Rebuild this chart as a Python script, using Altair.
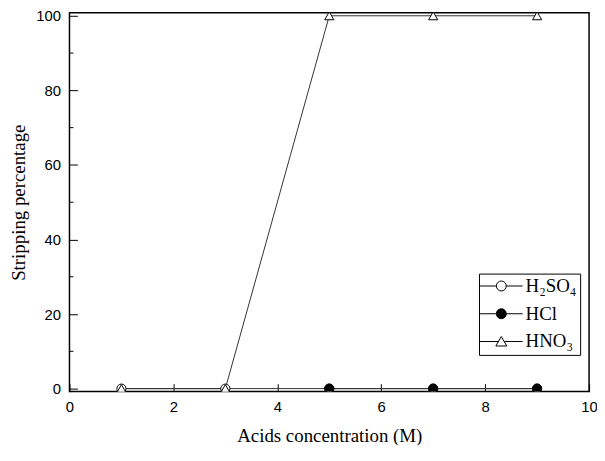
import altair as alt
import pandas as pd

# ---- data ----
series_names = ["H\u2082SO\u2084", "HCl", "HNO\u2083"]
x_h2so4 = [1, 3, 5, 7, 9]
y_h2so4 = [0, 0, 0, 0, 0]
x_hcl = [5, 7, 9]
y_hcl = [0, 0, 0]
x_hno3 = [1, 3, 5, 7, 9]
y_hno3 = [0, 0, 100, 100, 100]

x_ticks = [0, 2, 4, 6, 8, 10]
y_ticks = [0, 20, 40, 60, 80, 100]
y_minor = [10, 30, 50, 70, 90]
x_minor = [1, 3, 5, 7, 9]

rows = []
for name, xs, ys in zip(series_names, [x_h2so4, x_hcl, x_hno3], [y_h2so4, y_hcl, y_hno3]):
    for xv, yv in zip(xs, ys):
        rows.append({"series": name, "x": xv, "y": yv})
df = pd.DataFrame(rows)

W, H = 524, 382

xscale = alt.Scale(domain=[0, 10], nice=False, zero=False)
yscale = alt.Scale(domain=[-0.8, 100.8], nice=False, zero=False)

serif = "Liberation Serif"
sans = "Liberation Sans"

xaxis = alt.Axis(values=x_ticks, title="Acids concentration (M)", tickSize={"expr": "-8"},
                 labelPadding=16, labelFlush=False, titlePadding=12, format="d")
yaxis = alt.Axis(values=y_ticks, title="Stripping percentage", tickSize={"expr": "-8"},
                 labelPadding=17, labelFlush=False, titlePadding=7, format="d")

base = alt.Chart(df)

lines = base.mark_line(color="#333333", strokeWidth=1, clip=True).encode(
    x=alt.X("x:Q", scale=xscale, axis=xaxis),
    y=alt.Y("y:Q", scale=yscale, axis=yaxis),
    detail="series:N",
)

points = base.mark_point(filled=False, stroke="black", strokeWidth=1, size=85, opacity=1, clip=True).encode(
    x="x:Q",
    y="y:Q",
    shape=alt.Shape("series:N", scale=alt.Scale(domain=series_names, range=["circle", "circle", "triangle-up"]), legend=None),
    fill=alt.Fill("series:N", scale=alt.Scale(domain=series_names, range=["white", "black", "white"]), legend=None),
)

ydf = pd.DataFrame({"ym": y_minor})
yminor = alt.Chart(ydf).mark_rule(color="black", strokeWidth=1).encode(
    y="ym:Q", x=alt.value(0), x2=alt.value(4)
)
xdf = pd.DataFrame({"xm": x_minor})
xminor = alt.Chart(xdf).mark_rule(color="black", strokeWidth=1).encode(
    x="xm:Q", y=alt.value(H), y2=alt.value(H - 4)
)

paths = [
    "M-4.3,0H-1M1,0H4.3M1,0A1,1,0,1,1,-1,0A1,1,0,1,1,1,0Z",
    "M-4.3,0H-1M1,0H4.3M1,0A1,1,0,1,1,-1,0A1,1,0,1,1,1,0Z",
    "M-4.3,0H-0.6M0.6,0H4.3M0,-1L1.1,0.9L-1.1,0.9Z",
]
legend_layer = base.transform_filter("datum.y > 1000").transform_calculate(lg="datum.series").mark_point(
    strokeWidth=1, size=100, opacity=1
).encode(
    x="x:Q",
    y="y:Q",
    shape=alt.Shape("lg:N", scale=alt.Scale(domain=series_names, range=paths),
                    legend=alt.Legend(title=None, orient="none", legendX=413, legendY=263,
                                      strokeColor="black", padding=3, symbolOffset=10,
                                      labelOffset=15, labelFont=serif, labelFontSize=19,
                                      labelColor="black", symbolSize=100,
                                      symbolStrokeWidth=1, rowPadding=8)),
    fill=alt.Fill("lg:N", scale=alt.Scale(domain=series_names, range=["white", "black", "white"]), legend=None),
    stroke=alt.Stroke("lg:N", scale=alt.Scale(domain=series_names, range=["black", "black", "black"]), legend=None),
)

chart = alt.layer(yminor, xminor, lines, points, legend_layer).resolve_scale(
    shape="independent", fill="independent", stroke="independent"
).properties(
    width=W, height=H,
    background="white",
    autosize=alt.AutoSizeParams(type="none"),
    padding={"left": 62, "top": 3, "right": 8, "bottom": 52},
).configure_view(
    stroke="black", strokeWidth=1.5
).configure_axis(
    domain=False, grid=False, tickColor="black", tickWidth=1,
    labelFont=sans, labelFontSize=15, labelColor="black",
    titleFont=serif, titleFontSize=19, titleFontWeight="normal", titleColor="black",
)

chart.save("out.html", embed_options={"renderer": "svg", "actions": False})
